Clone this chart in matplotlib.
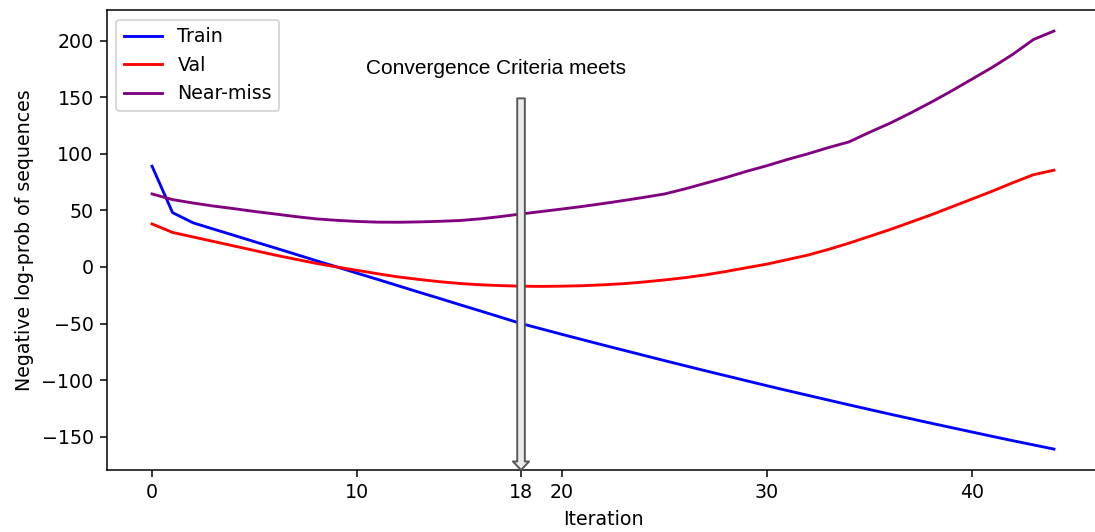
import matplotlib
matplotlib.use('Agg')
import matplotlib.pyplot as plt

iterations = list(range(45))

train = [89, 48, 39, 33.4, 27.9, 22.3, 16.8, 11.2, 5.6, 0.1,
         -5.5, -11.0, -16.6, -22.2, -27.7, -33.3, -38.8, -44.4, -50.0, -54.8,
         -59.6, -64.3, -69.0, -73.6, -78.2, -82.8, -87.3, -91.8, -96.2, -100.6,
         -105.0, -109.3, -113.5, -117.7, -121.9, -126.0, -130.1, -134.1, -138.1, -142.0,
         -145.9, -149.8, -153.6, -157.3, -161.0]

val = [38, 30.5, 26.5, 22.5, 18.5, 14.5, 10.5, 6.8, 3.2, 0,
       -3, -6, -8.8, -11, -13, -14.6, -15.8, -16.5, -17, -17.2,
       -17, -16.6, -15.8, -14.8, -13.3, -11.5, -9.5, -7, -4, -0.7,
       2.5, 6.5, 10.5, 15.5, 21, 27, 33, 39.5, 46, 53,
       60, 67, 74.5, 81.5, 85.5]

near_miss = [64.5, 59.5, 56.5, 53.8, 51.5, 49, 46.8, 44.5, 42.5, 41.2,
             40.2, 39.6, 39.5, 39.8, 40.3, 41, 42.5, 44.5, 46.8, 49,
             51.2, 53.5, 56, 58.7, 61.5, 64.5, 69, 74, 79, 84.5,
             89.5, 95, 100, 105.5, 110.5, 119, 127, 136, 145.5, 155.5,
             166, 176.5, 188, 201, 208.5]

conv_iter = 18
xticks = [0, 10, 18, 20, 30, 40]

dpi = 137
fig, ax = plt.subplots(figsize=(1095 / dpi, 532 / dpi), dpi=dpi)
# the right spine is cropped off in the original
fig.subplots_adjust(left=0.0977, right=1.0037, top=0.981, bottom=0.1165)

ax.plot(iterations, train, color='blue', label='Train')
ax.plot(iterations, val, color='red', label='Val')
ax.plot(iterations, near_miss, color='purple', label='Near-miss')

ax.set_ylim(-179.5, 227)
ax.set_xticks(xticks)
ax.set_xlabel('Iteration')
ax.set_ylabel('Negative log-prob of sequences')
ax.legend(loc='upper left')

# arrow marking the convergence point
ax.annotate('', xy=(conv_iter, -179.5), xytext=(conv_iter, 149),
            arrowprops=dict(facecolor='#ebebeb', edgecolor='#555555', width=4,
                            headwidth=8.5, headlength=4.5, linewidth=1),
            annotation_clip=False)
ax.text(16.8, 175, 'Convergence Criteria meets', ha='center', va='center',
        fontsize=11, family='Liberation Sans')

plt.savefig('out.png')
plt.close()
